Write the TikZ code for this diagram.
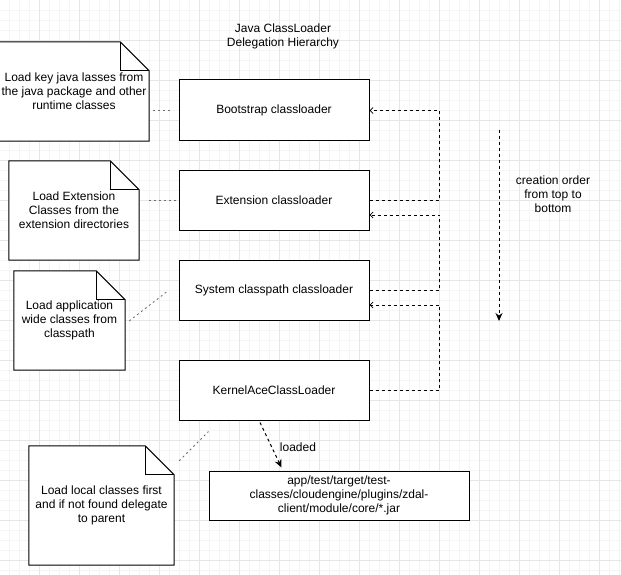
\documentclass[tikz,border=0pt]{standalone}
\usepackage{fontspec}
\setmainfont{Liberation Sans}
\usetikzlibrary{arrows.meta,calc}
\definecolor{gridmajor}{HTML}{E6E6E6}
\definecolor{gridminor}{HTML}{F5F5F5}
\definecolor{linkgray}{HTML}{6E6E6E}
\pgfdeclarelayer{gridlayer}
\pgfdeclarelayer{notelayer}
\pgfsetlayers{gridlayer,notelayer,main}
\begin{document}
\begin{tikzpicture}[x=1pt,y=-1pt,
  font=\fontsize{12}{14}\selectfont,
  loader/.style={draw, line width=1pt, fill=white, minimum width=190pt,
    minimum height=60pt, inner sep=0pt, align=center},
  notebody/.style={minimum width=#1, inner sep=0pt, align=center},
  noteline/.style={line width=1pt, fill=white, line join=miter},
  parentlink/.style={line width=1pt, dash pattern=on 3pt off 3pt,
    -{Straight Barb[length=3pt,width=6pt,line width=0.8pt]}},
  orderlink/.style={line width=1pt, dash pattern=on 3pt off 3pt,
    -{Stealth[length=8pt,width=7pt]}},
  notelink/.style={line width=0.8pt, linkgray, dash pattern=on 2pt off 3pt},
  plain/.style={align=center, inner sep=0pt}]

% page and background grid
\useasboundingbox (0,0) rectangle (621,575);
\begin{pgfonlayer}{gridlayer}
\fill[white] (0,0) rectangle (621,575);
\foreach \gx in {9,19,...,619} \draw[gridminor, line width=0.8pt] (\gx,0) -- (\gx,575);
\foreach \gy in {10,20,...,570} \draw[gridminor, line width=0.8pt] (0,\gy) -- (621,\gy);
\foreach \gx in {39,79,...,619} \draw[gridmajor, line width=0.8pt] (\gx,0) -- (\gx,575);
\foreach \gy in {40,80,...,560} \draw[gridmajor, line width=0.8pt] (0,\gy) -- (621,\gy);
\end{pgfonlayer}

% title
\node[plain] (title) at (283,36.5) {Java ClassLoader\\Delegation Hierarchy};

% class loaders
\node[loader, minimum height=61pt] (boot) at (274,110.5) {Bootstrap classloader};
\node[loader] (ext)  at (274,200) {Extension classloader};
\node[loader] (sys)  at (274,290) {System classpath classloader};
\node[loader] (kern) at (274,390) {KernelAceClassLoader};
\node[draw, line width=1pt, fill=white, minimum width=260pt, minimum height=49pt,
  inner sep=0pt, align=center] (jar) at (339,495.5)
  {app/test/target/test-\\classes/cloudengine/plugins/zdal-\\client/module/core/*.jar};

% notes; their folded-corner outlines go on the layer below the text
\node[notebody=150pt, minimum height=99pt] (n1) at (74,91.5)
  {Load key java lasses from\\the java package and other\\runtime classes};
\node[notebody=130pt, minimum height=99pt] (n2) at (74,210.5)
  {Load Extension\\Classes from the\\extension directories};
\node[notebody=111pt, minimum height=99pt] (n3) at (69.5,320.5)
  {Load application\\wide classes from\\classpath};
\node[notebody=145pt, minimum height=119pt] (n4) at (101.5,505.5)
  {Load local classes first\\and if not found delegate\\to parent};

\begin{pgfonlayer}{notelayer}
\foreach \n in {n1,n2,n3,n4} {
  \draw[noteline] (\n.north west) -- ($(\n.north east)+(-29,0)$)
    -- ($(\n.north east)+(0,29)$) -- (\n.south east) -- (\n.south west) -- cycle;
  \draw[line width=1pt] ($(\n.north east)+(-29,0)$) -- ++(0,29) -- ++(29,0);
}
\end{pgfonlayer}

% note links
\draw[notelink] ($(n1.east|-boot.west)+(4,0)$) -- ($(boot.west)+(-7,0)$);
\draw[notelink] ($(n2.east|-ext.west)+(10,0)$) -- ($(ext.west)+(-2,0)$);
\draw[notelink] ($(n3.east)+(4,0.5)$) -- ($(sys.west)+(-12,2)$);
\draw[notelink] ($(n4.north east)+(5,15)$) -- ($(kern.south west)+(30,11)$);

% delegation to parent
\draw[parentlink] (ext.east) -- ++(70,0) |- (boot.east);
\draw[parentlink] (sys.east) -- ++(70,0) |- ($(ext.east)+(0,15)$);
\draw[parentlink] (kern.east) -- ++(70,0) |- ($(sys.east)+(0,15)$);

% creation order
\coordinate (otop) at (499,130);
\coordinate (obot) at (499,321);
\draw[orderlink] (otop) -- (obot);
\node[plain] (order) at (553,194) {creation order\\from top to\\bottom};

% loaded jar
\draw[orderlink] ($(kern.south)+(-14,2)$) -- ($(jar.north west)+(73,-3)$);
\node[plain] (loaded) at (298,447) {loaded};

\end{tikzpicture}
\end{document}
